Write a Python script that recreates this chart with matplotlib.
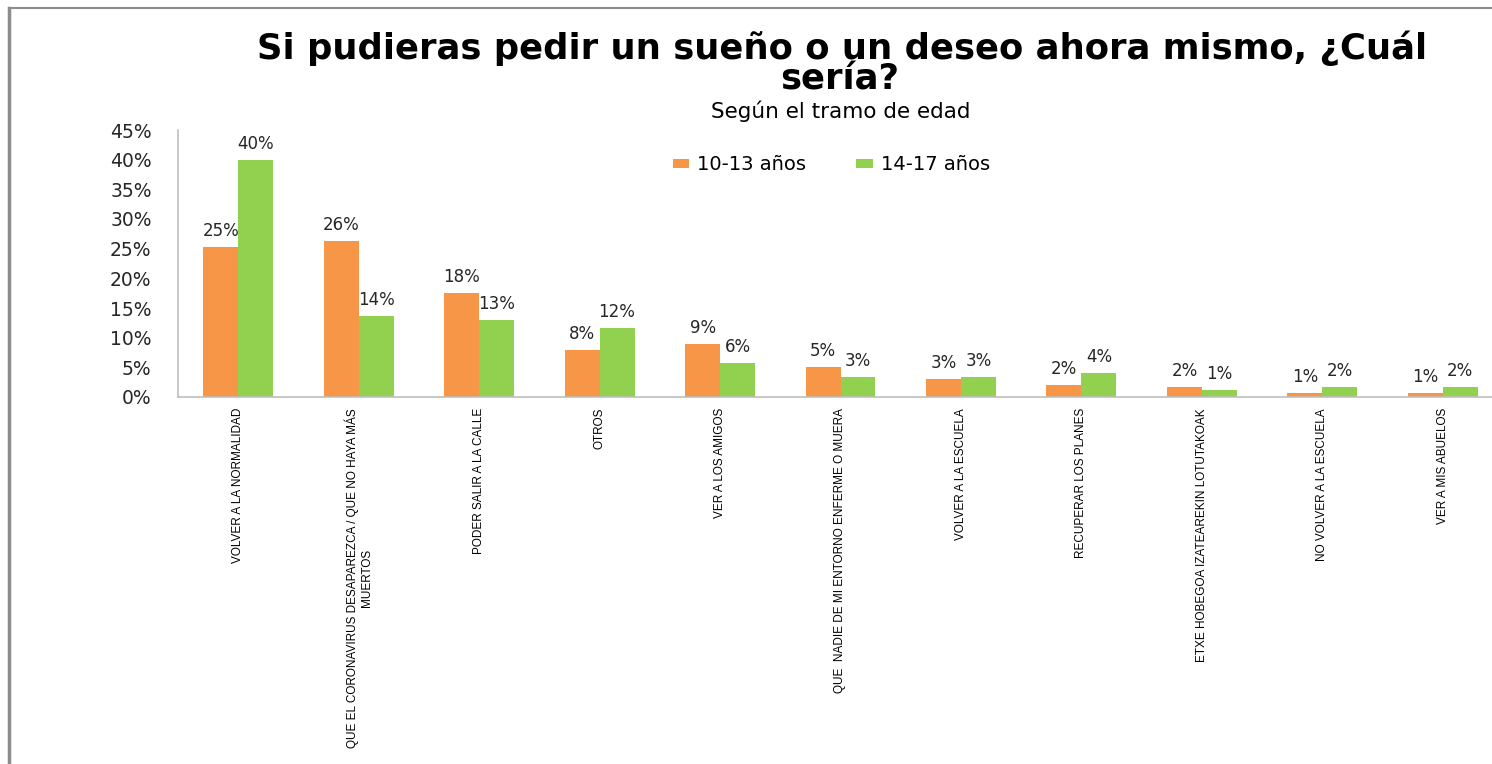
import matplotlib.pyplot as plt
import numpy as np
from matplotlib.lines import Line2D

# Respuestas por tramo de edad (% de cada grupo)
categorias = [
    "VOLVER A LA NORMALIDAD",
    "QUE EL CORONAVIRUS DESAPAREZCA / QUE NO HAYA MÁS\nMUERTOS",
    "PODER SALIR A LA CALLE",
    "OTROS",
    "VER A LOS AMIGOS",
    "QUE  NADIE DE MI ENTORNO ENFERME O MUERA",
    "VOLVER A LA ESCUELA",
    "RECUPERAR LOS PLANES",
    "ETXE HOBEGOA IZATEAREKIN LOTUTAKOAK",
    "NO VOLVER A LA ESCUELA",
    "VER A MIS ABUELOS",
]
edad_10_13 = [25.3, 26.3, 17.6, 7.9, 8.9, 5.0, 3.1, 2.1, 1.7, 0.7, 0.6]
edad_14_17 = [40.0, 13.7, 13.0, 11.6, 5.8, 3.3, 3.3, 4.0, 1.2, 1.7, 1.7]
series = ["10-13 años", "14-17 años"]
y_ticks = [0, 5, 10, 15, 20, 25, 30, 35, 40, 45]

naranja = "#F79646"
verde = "#92D050"
texto = "#262626"

W, H = 1492, 764
fig = plt.figure(figsize=(W / 100, H / 100), dpi=100)
ax = fig.add_axes([178 / W, 1 - 397 / H, (1503 - 178) / W, (397 - 130) / H])

x = np.arange(len(categorias))
bw = 0.29
b1 = ax.bar(x - bw / 2, edad_10_13, bw, color=naranja, label=series[0])
b2 = ax.bar(x + bw / 2, edad_14_17, bw, color=verde, label=series[1])

for bars, vals in ((b1, edad_10_13), (b2, edad_14_17)):
    for rect, v in zip(bars, vals):
        ax.annotate(f"{v:.0f}%", (rect.get_x() + rect.get_width() / 2, v),
                    xytext=(0, 5), textcoords="offset points",
                    ha="center", va="bottom", fontsize=12, color=texto)

ax.set_xlim(-0.5, len(categorias) - 0.5)
ax.set_ylim(0, 45)
ax.set_yticks(y_ticks)
ax.set_yticklabels([f"{t}%" for t in y_ticks], fontsize=13.5, color=texto)
ax.tick_params(axis="y", length=0, pad=19)
ax.tick_params(axis="x", length=0, pad=8)
ax.set_xticks(x)
ax.set_xticklabels(categorias, rotation=90, fontsize=8.5, va="top", ha="center",
                   multialignment="center", family="Liberation Sans", color="black")

for s in ("top", "right"):
    ax.spines[s].set_visible(False)
for s in ("left", "bottom"):
    ax.spines[s].set_color("#BFBFBF")
    ax.spines[s].set_linewidth(1.2)

fig.legend(handles=[b1, b2], labels=series, loc="center left",
           bbox_to_anchor=(655 / W, 1 - 165 / H), ncol=2, frameon=False,
           fontsize=14, handlelength=0.85, handleheight=0.4,
           columnspacing=2.6, handletextpad=0.4)

fig.text(842 / W, 1 - 48 / H, "Si pudieras pedir un sueño o un deseo ahora mismo, ¿Cuál",
         ha="center", va="center", fontsize=25.5, fontweight="bold", color="black")
fig.text(840 / W, 1 - 80 / H, "sería?",
         ha="center", va="center", fontsize=25.5, fontweight="bold", color="black")
fig.text(841 / W, 1 - 111 / H, "Según el tramo de edad", ha="center", va="center",
         fontsize=15.5, color="black")

# marco del gráfico (solo arriba e izquierda)
fig.add_artist(Line2D([9 / W, 9 / W], [0, 1 - 8 / H], color="#8C8C8C", lw=2.5,
                      transform=fig.transFigure))
fig.add_artist(Line2D([9 / W, 1], [1 - 8 / H, 1 - 8 / H], color="#8C8C8C", lw=1.5,
                      transform=fig.transFigure))

fig.savefig("out.png", dpi=100)
